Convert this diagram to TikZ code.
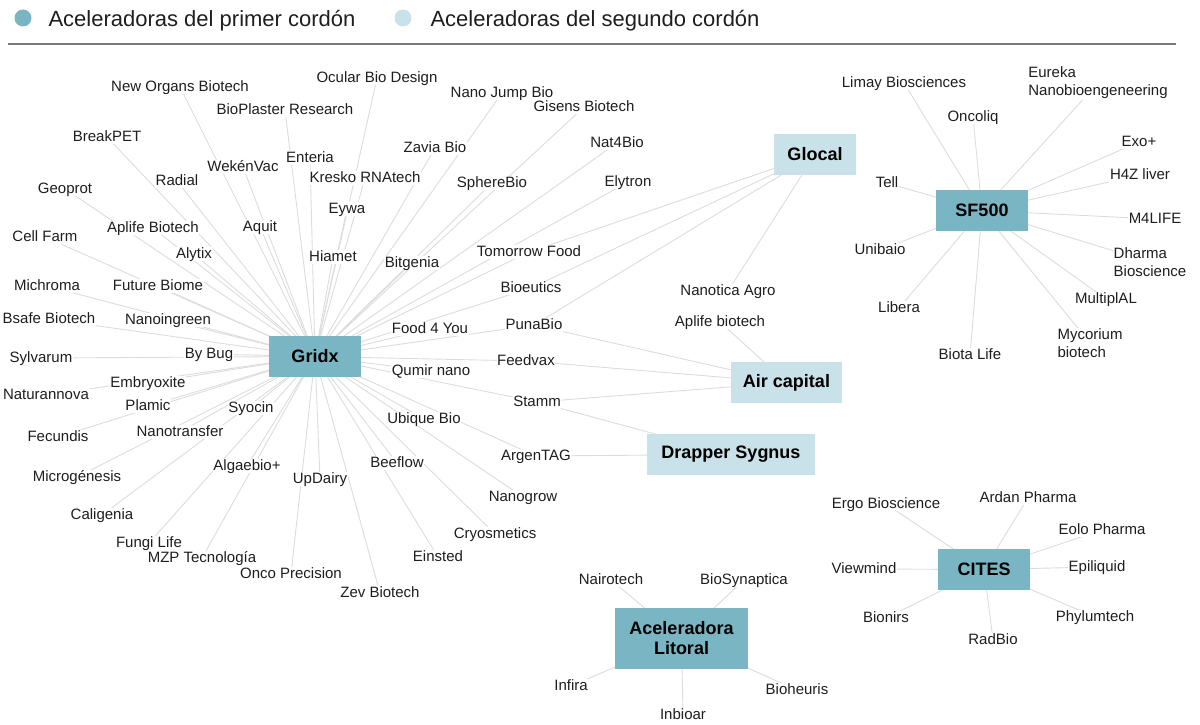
\documentclass[tikz,border=0pt]{standalone}
\usepackage{fontspec}
\setmainfont{Liberation Sans}
\usetikzlibrary{backgrounds}
\definecolor{primer}{HTML}{7AB5C4}
\definecolor{segundo}{HTML}{C9E1E8}
\definecolor{enlace}{HTML}{DCDCDC}
\definecolor{texto}{HTML}{1E1E1E}
\definecolor{regla}{HTML}{7A7A7A}
\tikzset{
  lbl/.style={fill=white, inner sep=0.6pt, text=texto, text height=10.5, text depth=2,
    font=\fontsize{15}{18}\selectfont},
  lbltwo/.style={fill=white, inner sep=0.6pt, text=texto, align=left,
    font=\fontsize{15}{18}\selectfont},
  hubA/.style={fill=primer, inner sep=0pt, minimum height=41, text=black,
    font=\fontsize{18}{21}\bfseries\selectfont},
  hubB/.style={hubA, fill=segundo},
  link/.style={draw=enlace, line width=0.9pt},
  legtext/.style={anchor=base west, text=texto, font=\fontsize{22}{26}\selectfont},
}
\begin{document}
\begin{tikzpicture}[x=1pt,y=-1pt]
\useasboundingbox (0,0) rectangle (1200,725);

% legend
\node[circle, fill=primer, minimum size=17, inner sep=0] (dot1) at (23,18) {};
\node[legtext] (leg1) at (45,26.5) {Aceleradoras del primer cordón};
\node[circle, fill=segundo, minimum size=17, inner sep=0] (dot2) at (403,18) {};
\node[legtext] (leg2) at (427,26.5) {Aceleradoras del segundo cordón};
\coordinate (ruleL) at (8,44);
\coordinate (ruleR) at (1176,44);
\draw[regla, line width=1.5pt] (ruleL) -- (ruleR);

% hubs
\node[hubA, minimum width=92] (gridx) at (315,356.5) {Gridx};
\node[hubB, minimum width=82] (glocal) at (815,154.5) {Glocal};
\node[hubB, minimum width=111] (aircap) at (786.5,382.5) {Air capital};
\node[hubB, minimum width=168] (drapper) at (731,454.5) {Drapper Sygnus};
\node[hubA, minimum width=92] (sf) at (982,210.5) {SF500};
\node[hubA, minimum width=92] (cites) at (984,569.5) {CITES};
\node[hubA, minimum width=133, minimum height=61, align=center] (litoral) at (681.5,638.5) {Aceleradora\\[-1pt]Litoral};

% Gridx companies
\node[lbl] (newo) at (180,87) {New Organs Biotech};
\node[lbl] (ocul) at (377,78) {Ocular Bio Design};
\node[lbl] (biop) at (285,110) {BioPlaster Research};
\node[lbl] (nanoj) at (502,93) {Nano Jump Bio};
\node[lbl] (gise) at (584,107) {Gisens Biotech};
\node[lbl] (brea) at (107,137) {BreakPET};
\node[lbl] (ente) at (310,158) {Enteria};
\node[lbl] (zavi) at (435,148) {Zavia Bio};
\node[lbl] (nat4) at (617,143) {Nat4Bio};
\node[lbl] (weke) at (243,167) {WekénVac};
\node[lbl] (radi) at (177,181) {Radial};
\node[lbl] (kres) at (365,178) {Kresko RNAtech};
\node[lbl] (sphe) at (492,183) {SphereBio};
\node[lbl] (elyt) at (628,182) {Elytron};
\node[lbl] (geop) at (65,189) {Geoprot};
\node[lbl] (eywa) at (347,209) {Eywa};
\node[lbl] (apli) at (153,228) {Aplife Biotech};
\node[lbl] (aqui) at (260,227) {Aquit};
\node[lbl] (cell) at (45,237) {Cell Farm};
\node[lbl] (alyt) at (194,254) {Alytix};
\node[lbl] (hiam) at (333,257) {Hiamet};
\node[lbl] (bitg) at (412,263) {Bitgenia};
\node[lbl] (tomo) at (529,252) {Tomorrow Food};
\node[lbl] (mich) at (47,286) {Michroma};
\node[lbl] (futu) at (158,286) {Future Biome};
\node[lbl] (bioe) at (531,288) {Bioeutics};
\node[lbl] (bsaf) at (49,319) {Bsafe Biotech};
\node[lbl] (nanoi) at (168,320) {Nanoingreen};
\node[lbl] (food) at (430,329) {Food 4 You};
\node[lbl] (puna) at (534,325) {PunaBio};
\node[lbl] (sylv) at (41,358) {Sylvarum};
\node[lbl] (bybu) at (209,354) {By Bug};
\node[lbl] (qumi) at (431,371) {Qumir nano};
\node[lbl] (feed) at (526,361) {Feedvax};
\node[lbl] (natu) at (46,395) {Naturannova};
\node[lbl] (embr) at (148,383) {Embryoxite};
\node[lbl] (plam) at (148,406) {Plamic};
\node[lbl] (syoc) at (251,408) {Syocin};
\node[lbl] (stam) at (537,402) {Stamm};
\node[lbl] (ubiq) at (424,419) {Ubique Bio};
\node[lbl] (fecu) at (58,437) {Fecundis};
\node[lbl] (nanot) at (180,432) {Nanotransfer};
\node[lbl] (arge) at (536,456) {ArgenTAG};
\node[lbl] (micr) at (77,477) {Microgénesis};
\node[lbl] (alga) at (247,466) {Algaebio+};
\node[lbl] (updi) at (320,479) {UpDairy};
\node[lbl] (beef) at (397,463) {Beeflow};
\node[lbl] (nanog) at (523,497) {Nanogrow};
\node[lbl] (cali) at (102,515) {Caligenia};
\node[lbl] (cryo) at (495,534) {Cryosmetics};
\node[lbl] (fung) at (149,543) {Fungi Life};
\node[lbl] (mzp) at (202,558) {MZP Tecnología};
\node[lbl] (eins) at (438,557) {Einsted};
\node[lbl] (onco) at (291,574) {Onco Precision};
\node[lbl] (zev) at (380,593) {Zev Biotech};

% second-ring companies
\node[lbl] (nagro) at (728,291) {Nanotica Agro};
\node[lbl] (apl2) at (720,322) {Aplife biotech};

% SF500 companies
\node[lbl] (lima) at (904,83) {Limay Biosciences};
\node[lbltwo] (eure) at (1098,83) {Eureka\\Nanobioengeneering};
\node[lbl] (onli) at (973,117) {Oncoliq};
\node[lbl] (exo) at (1139,142) {Exo+};
\node[lbl] (h4z) at (1140,175) {H4Z liver};
\node[lbl] (tell) at (887,183) {Tell};
\node[lbl] (m4l) at (1155,219) {M4LIFE};
\node[lbl] (unib) at (880,250) {Unibaio};
\node[lbltwo] (dhar) at (1150,262) {Dharma\\Bioscience};
\node[lbl] (mult) at (1106,299) {MultiplAL};
\node[lbl] (libe) at (899,308) {Libera};
\node[lbltwo] (myco) at (1090,343) {Mycorium\\biotech};
\node[lbl] (biot) at (970,355) {Biota Life};

% CITES companies
\node[lbl] (ergo) at (886,504) {Ergo Bioscience};
\node[lbl] (arda) at (1028,498) {Ardan Pharma};
\node[lbl] (eolo) at (1102,530) {Eolo Pharma};
\node[lbl] (view) at (864,569) {Viewmind};
\node[lbl] (epil) at (1097,567) {Epiliquid};
\node[lbl] (bion) at (886,618) {Bionirs};
\node[lbl] (phyl) at (1095,617) {Phylumtech};
\node[lbl] (radb) at (993,640) {RadBio};

% Aceleradora Litoral companies
\node[lbl] (nair) at (611,580) {Nairotech};
\node[lbl] (bsyn) at (744,580) {BioSynaptica};
\node[lbl] (infi) at (571,686) {Infira};
\node[lbl] (bheu) at (797,690) {Bioheuris};
\node[lbl] (inbi) at (683,715) {Inbioar};

% connectors
\begin{scope}[on background layer]
\foreach \n in {newo,ocul,biop,nanoj,gise,brea,ente,zavi,nat4,weke,radi,kres,sphe,elyt,
  geop,eywa,apli,aqui,cell,alyt,hiam,bitg,tomo,mich,futu,bioe,bsaf,nanoi,food,puna,
  sylv,bybu,qumi,feed,natu,embr,plam,syoc,stam,ubiq,fecu,nanot,arge,micr,alga,updi,
  beef,nanog,cali,cryo,fung,mzp,eins,onco,zev}
  \draw[link] (gridx.center) -- (\n.center);
\foreach \n in {tomo,bioe,puna,nagro}
  \draw[link] (glocal.center) -- (\n.center);
\foreach \n in {puna,feed,stam,apl2}
  \draw[link] (aircap.center) -- (\n.center);
\foreach \n in {stam,arge}
  \draw[link] (drapper.center) -- (\n.center);
\foreach \n in {lima,eure,onli,exo,h4z,tell,m4l,unib,dhar,mult,libe,myco,biot}
  \draw[link] (sf.center) -- (\n.center);
\foreach \n in {ergo,arda,eolo,view,epil,bion,phyl,radb}
  \draw[link] (cites.center) -- (\n.center);
\foreach \n in {nair,bsyn,infi,bheu,inbi}
  \draw[link] (litoral.center) -- (\n.center);
\end{scope}
\end{tikzpicture}
\end{document}
